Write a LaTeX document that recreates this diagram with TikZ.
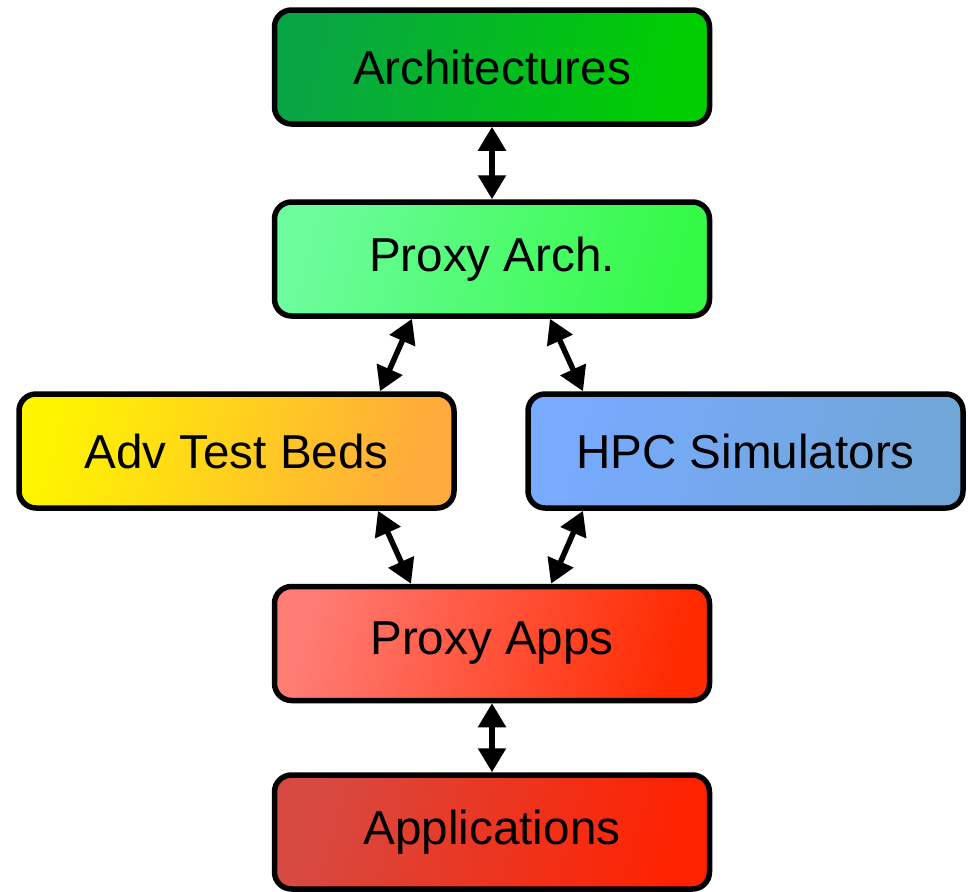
\documentclass[tikz,border=0pt]{standalone}
\usepackage{fontspec}
\setmainfont{Liberation Sans}
\usetikzlibrary{arrows.meta,calc,shadows}

\definecolor{archA}{RGB}{8,165,68}
\definecolor{archB}{RGB}{0,206,0}
\definecolor{parchA}{RGB}{108,252,156}
\definecolor{parchB}{RGB}{52,250,70}
\definecolor{advA}{RGB}{255,244,0}
\definecolor{advB}{RGB}{255,170,60}
\definecolor{hpcA}{RGB}{120,170,255}
\definecolor{hpcB}{RGB}{112,166,216}
\definecolor{pappsA}{RGB}{255,124,116}
\definecolor{pappsB}{RGB}{255,42,0}
\definecolor{appsA}{RGB}{214,74,66}
\definecolor{appsB}{RGB}{255,34,0}

\tikzset{
  layer/.style={draw=black, line width=5.5pt, rounded corners=17pt,
    minimum width=435pt, minimum height=114pt, inner sep=0pt,
    font=\fontsize{47.6pt}{57pt}\selectfont,
    drop shadow={shadow xshift=1.5pt, shadow yshift=-1.5pt, opacity=.35, fill=black}},
  grad/.style 2 args={top color=#1, bottom color=#2, shading angle=75},
  link/.style={line width=5.5pt, {Triangle[length=24pt,width=27pt]}-{Triangle[length=24pt,width=27pt]}}
}

\begin{document}
\begin{tikzpicture}[x=1pt,y=-1pt]
  \useasboundingbox (0,0) rectangle (970,892);

  % layers of the co-design stack
  \node[layer, grad={archA}{archB}]   (arch)  at (492,67)    {Architectures};
  \node[layer, grad={parchA}{parchB}] (parch) at (492,259)   {Proxy Arch.};
  \node[layer, grad={advA}{advB}]     (adv)   at (236.5,451) {Adv Test Beds};
  \node[layer, grad={hpcA}{hpcB}]     (hpc)   at (745.5,451) {HPC Simulators};
  \node[layer, grad={pappsA}{pappsB}] (papps) at (492,643.5) {Proxy Apps};
  \node[layer, grad={appsA}{appsB}]   (apps)  at (492,832)   {Applications};

  % two-way links between the layers
  \draw[link] (arch.south) -- (parch.north);
  \draw[link] ($(parch.south)+(-80,0)$) -- ($(adv.north)+(143.5,0)$);
  \draw[link] ($(parch.south)+(58,0)$) -- ($(hpc.north)+(-162.5,0)$);
  \draw[link] ($(adv.south)+(141.5,0)$) -- ($(papps.north)+(-81,0)$);
  \draw[link] ($(hpc.south)+(-162.5,0)$) -- ($(papps.north)+(59,0)$);
  \draw[link] (papps.south) -- (apps.north);
\end{tikzpicture}
\end{document}
